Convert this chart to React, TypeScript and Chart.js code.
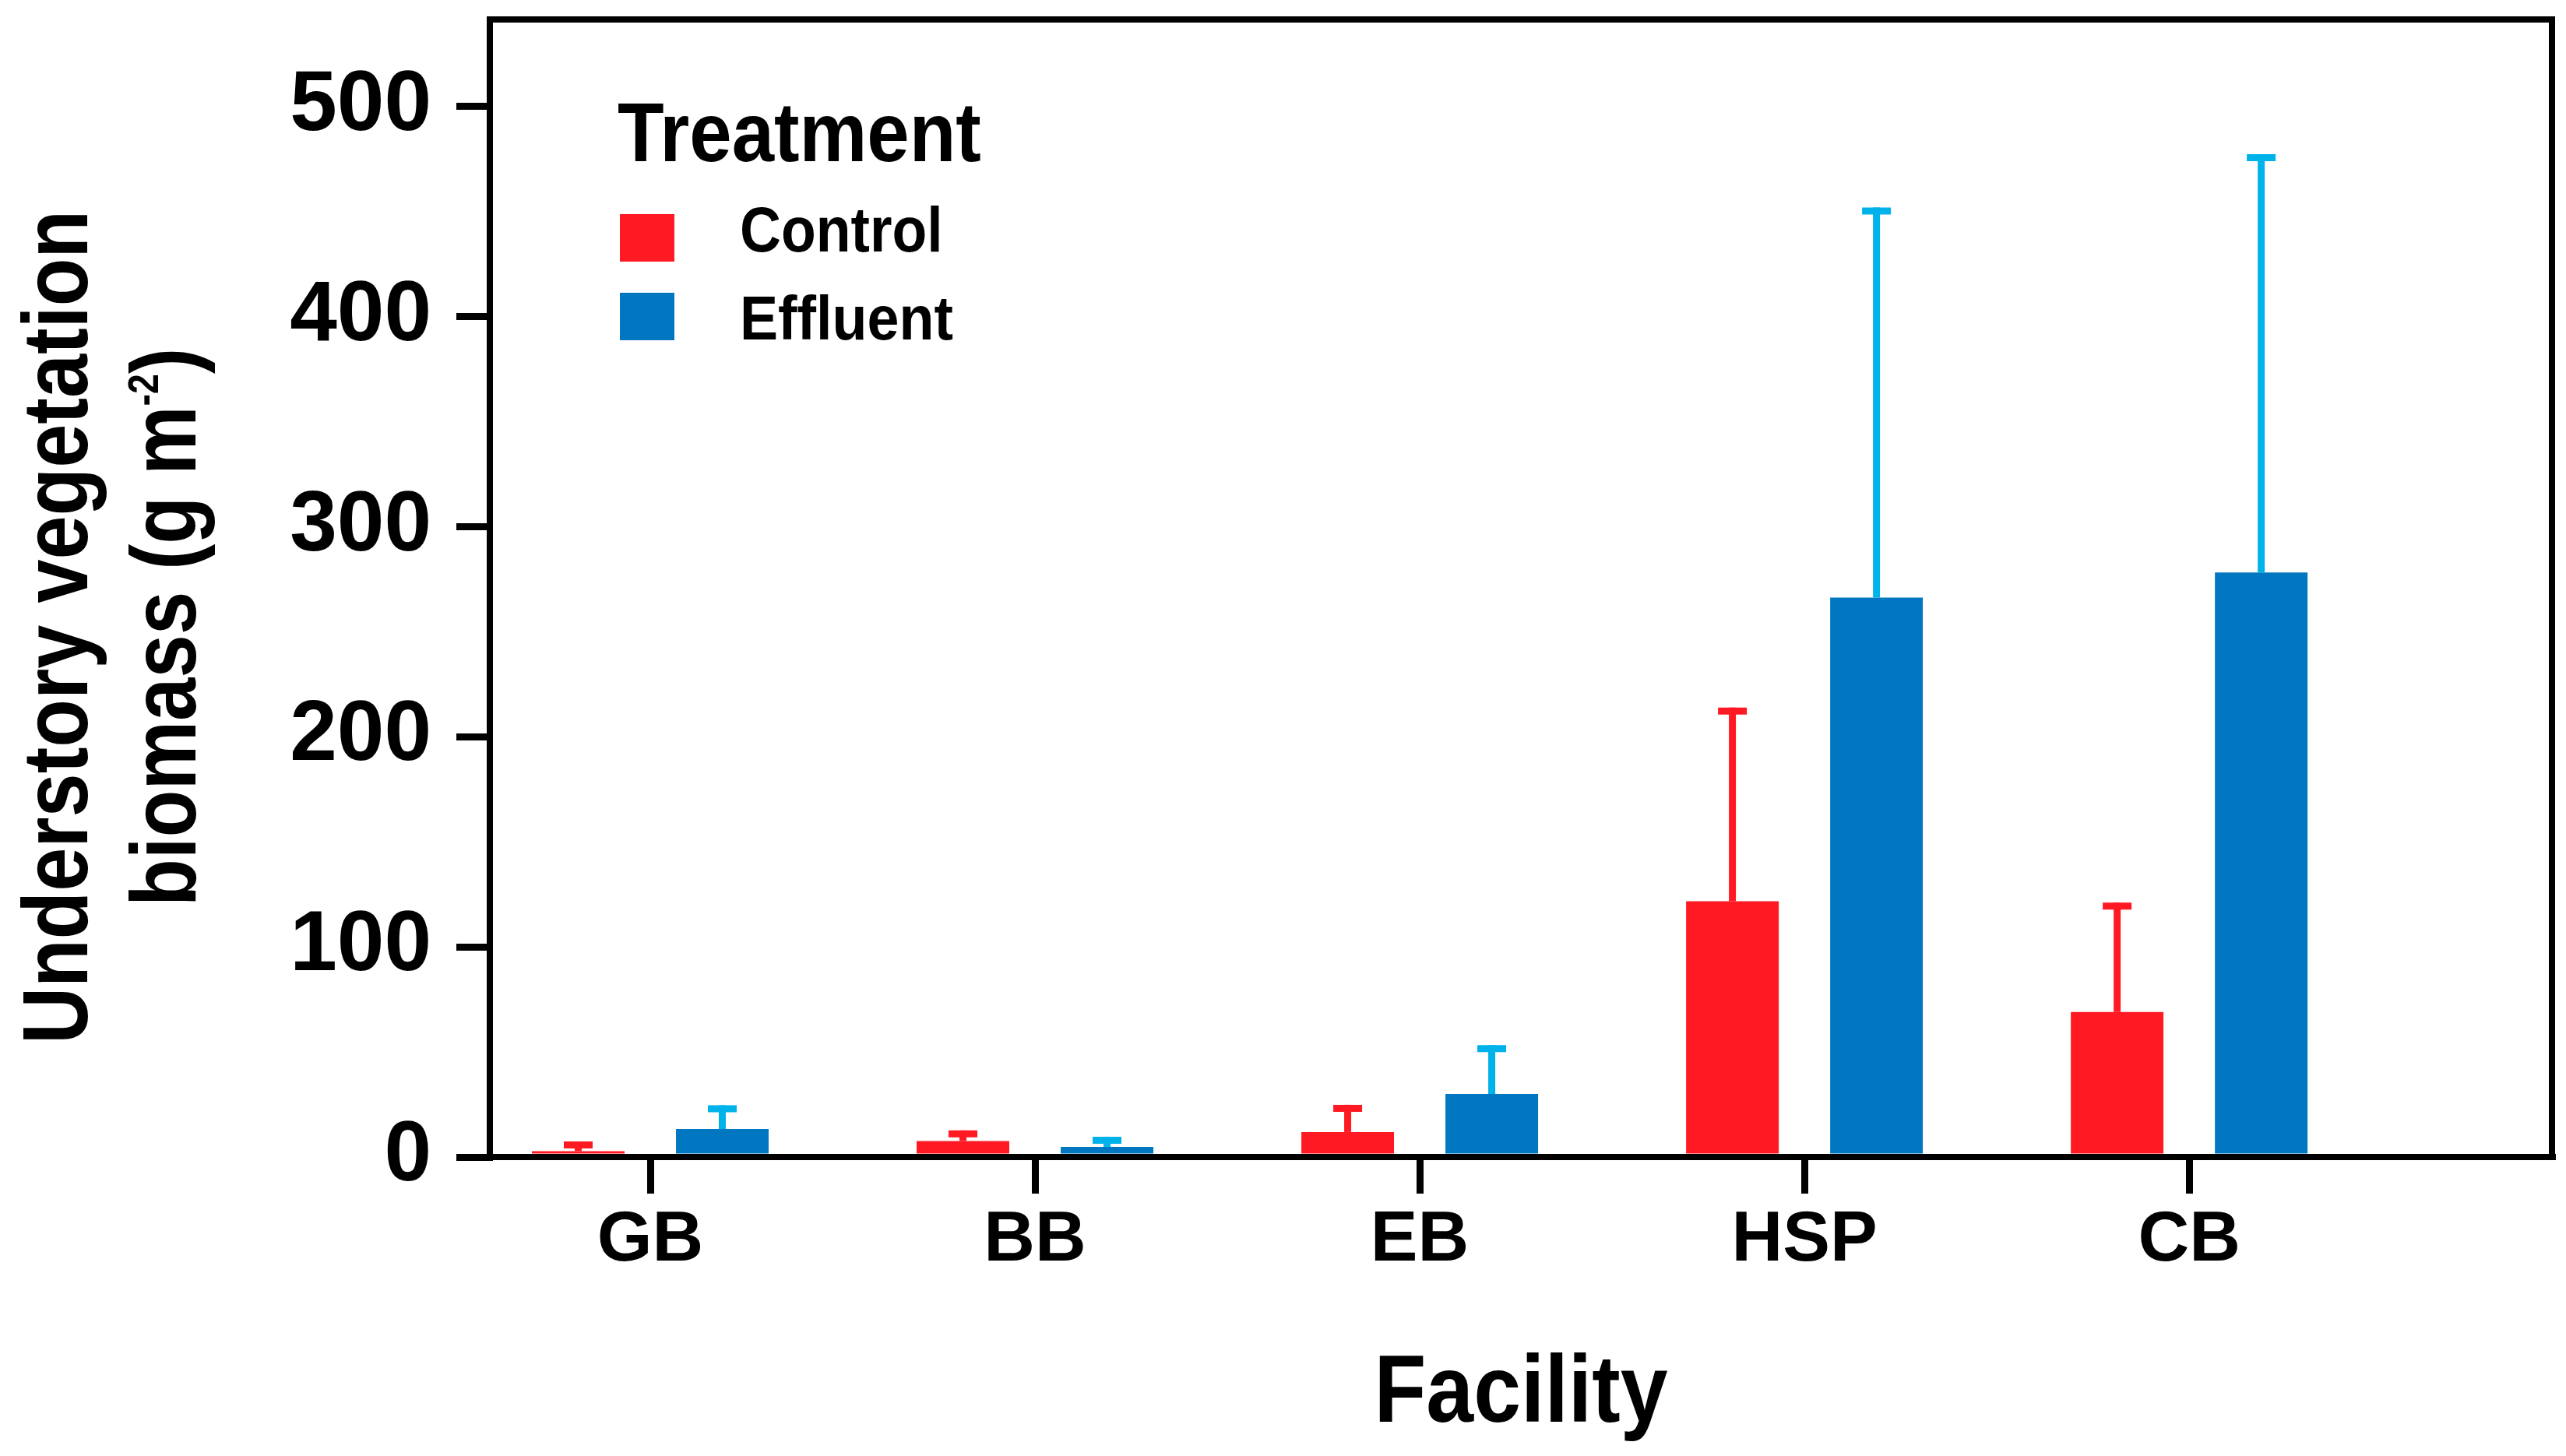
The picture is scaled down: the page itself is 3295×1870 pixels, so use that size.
import React, { useEffect, useRef } from 'react';
import { Chart, registerables } from 'chart.js';

Chart.register(...registerables);

// ---------- data ----------
const facilities = ['GB', 'BB', 'EB', 'HSP', 'CB'];
const controlMean = [2.8, 7.6, 11.9, 121.8, 69.0];
const controlSE = [2.9, 3.4, 11.3, 90.5, 50.4];
const effluentMean = [13.3, 4.8, 30.0, 266.3, 278.3];
const effluentSE = [9.7, 3.2, 21.6, 184.0, 197.4];
const yTickValues = [0, 100, 200, 300, 400, 500];
const treatments = ['Control', 'Effluent'];
const legendTitle = 'Treatment';
const xAxisTitle = 'Facility';
const yAxisTitleLine1 = 'Understory vegetation';
const yAxisTitleLine2 = 'biomass (g m';
const yAxisTitleSup = '-2';
const yAxisTitleEnd = ')';

// ---------- style ----------
const W = 3295;
const H = 1870;
const RED = '#FF1923';
const BLUE = '#0077C0';
const BLUE_ERR = '#00B2EA';
const FONT = '"Liberation Sans", Arial, Helvetica, sans-serif';

function drawScaledText(
  ctx: CanvasRenderingContext2D,
  text: string,
  x: number,
  y: number,
  size: number,
  sx: number,
  align: CanvasTextAlign = 'left'
) {
  ctx.save();
  ctx.font = `bold ${size}px ${FONT}`;
  ctx.fillStyle = '#000';
  ctx.textAlign = align;
  ctx.textBaseline = 'alphabetic';
  ctx.translate(x, y);
  ctx.scale(sx, 1);
  ctx.fillText(text, 0, 0);
  ctx.restore();
}

const errorBarPlugin = {
  id: 'errorBars',
  afterDatasetsDraw(chart: any) {
    const { ctx } = chart;
    const yScale = chart.scales.y;
    chart.data.datasets.forEach((ds: any, di: number) => {
      const meta = chart.getDatasetMeta(di);
      meta.data.forEach((el: any, i: number) => {
        const mean = ds.data[i].y;
        const se = ds.errors[i];
        const yBase = yScale.getPixelForValue(mean);
        const yTop = yScale.getPixelForValue(mean + se);
        ctx.save();
        ctx.strokeStyle = ds.errorColor;
        ctx.lineWidth = 9;
        ctx.lineCap = 'butt';
        ctx.beginPath();
        ctx.moveTo(el.x, yBase);
        ctx.lineTo(el.x, yTop - 4.5);
        ctx.stroke();
        ctx.beginPath();
        ctx.moveTo(el.x - 18.5, yTop);
        ctx.lineTo(el.x + 18.5, yTop);
        ctx.stroke();
        ctx.restore();
      });
    });
  },
};

const decorPlugin = {
  id: 'decor',
  afterDraw(chart: any) {
    const { ctx, chartArea: ca } = chart;
    const yScale = chart.scales.y;

    // top and right frame
    ctx.save();
    ctx.strokeStyle = '#000';
    ctx.lineWidth = 8;
    ctx.lineJoin = 'miter';
    ctx.beginPath();
    ctx.moveTo(ca.left - 4, ca.top);
    ctx.lineTo(ca.right, ca.top);
    ctx.lineTo(ca.right, ca.bottom + 4);
    ctx.stroke();
    ctx.restore();

    // legend
    const lx = ca.left;
    const ty = ca.top;
    drawScaledText(ctx, legendTitle, lx + 164, ty + 182, 107, 0.913);
    const boxTops = [ty + 250, ty + 351];
    const baselines = [ty + 298, ty + 411];
    const sizes = [81, 80];
    const sxs = [0.905, 0.92];
    chart.data.datasets.forEach((ds: any, i: number) => {
      ctx.save();
      ctx.fillStyle = ds.backgroundColor;
      ctx.fillRect(lx + 167, boxTops[i], 70, 61);
      ctx.restore();
      drawScaledText(ctx, ds.label, lx + 321, baselines[i], sizes[i], sxs[i]);
    });

    // x title
    drawScaledText(ctx, xAxisTitle, (ca.left + ca.right) / 2, ca.bottom + 340, 123, 0.89, 'center');

    // y title
    const cy =
      (yScale.getPixelForValue(yTickValues[0]) +
        yScale.getPixelForValue(yTickValues[yTickValues.length - 1])) /
        2 -
      6;
    const main = `bold 118px ${FONT}`;
    const sup = `bold 55px ${FONT}`;
    ctx.save();
    ctx.fillStyle = '#000';
    ctx.textBaseline = 'alphabetic';
    ctx.translate(ca.left - 517, cy);
    ctx.rotate(-Math.PI / 2);
    ctx.scale(0.855, 1);
    ctx.font = main;
    ctx.textAlign = 'center';
    ctx.fillText(yAxisTitleLine1, 0, 0);
    ctx.restore();

    ctx.save();
    ctx.fillStyle = '#000';
    ctx.textBaseline = 'alphabetic';
    ctx.textAlign = 'left';
    ctx.translate(ca.left - 378, cy);
    ctx.rotate(-Math.PI / 2);
    ctx.scale(0.845, 1);
    ctx.font = main;
    const w1 = ctx.measureText(yAxisTitleLine2).width;
    const w3 = ctx.measureText(yAxisTitleEnd).width;
    ctx.font = sup;
    const w2 = ctx.measureText(yAxisTitleSup).width;
    let x = -(w1 + w2 + w3) / 2;
    ctx.font = main;
    ctx.fillText(yAxisTitleLine2, x, 0);
    x += w1;
    ctx.font = sup;
    ctx.fillText(yAxisTitleSup, x, -48);
    x += w2;
    ctx.font = main;
    ctx.fillText(yAxisTitleEnd, x, 0);
    ctx.restore();
  },
};

export default function App() {
  const ref = useRef<HTMLCanvasElement>(null);

  useEffect(() => {
    document.body.style.margin = '0';
    const canvas = ref.current;
    if (!canvas) return;

    const chart = new Chart(canvas, {
      type: 'bar',
      data: {
        datasets: [
          {
            label: treatments[0],
            data: facilities.map((_, i) => ({ x: i, y: controlMean[i] })),
            backgroundColor: RED,
            borderWidth: 0,
            errors: controlSE,
            errorColor: RED,
          } as any,
          {
            label: treatments[1],
            data: facilities.map((_, i) => ({ x: i, y: effluentMean[i] })),
            backgroundColor: BLUE,
            borderWidth: 0,
            errors: effluentSE,
            errorColor: BLUE_ERR,
          } as any,
        ],
      },
      options: {
        animation: false,
        responsive: false,
        devicePixelRatio: 1,
        categoryPercentage: 0.749,
        barPercentage: 0.643,
        layout: { padding: { top: 25, right: 18, bottom: 0, left: 0 } },
        plugins: {
          legend: { display: false },
          tooltip: { enabled: false },
        },
        scales: {
          x: {
            type: 'linear',
            min: -0.417,
            max: 4.943,
            offset: false,
            afterBuildTicks: (scale: any) => {
              scale.ticks = facilities.map((_, i) => ({ value: i }));
            },
            afterFit: (scale: any) => {
              scale.height = 384;
              scale.paddingLeft = 0;
              scale.paddingRight = 0;
            },
            grid: {
              drawOnChartArea: false,
              drawTicks: true,
              tickLength: 47,
              tickWidth: 9,
              tickColor: '#000',
              color: '#000',
              lineWidth: 9,
              offset: false,
            },
            border: { display: true, color: '#000', width: 8, z: 1 },
            ticks: {
              callback: (v: any) => facilities[Math.round(Number(v))] ?? '',
              font: { family: FONT, size: 91, weight: 'bold' },
              color: '#000',
              padding: 6,
              maxRotation: 0,
              minRotation: 0,
              autoSkip: false,
            },
            title: { display: false },
          } as any,
          y: {
            type: 'linear',
            min: 0,
            max: 541.5,
            afterBuildTicks: (scale: any) => {
              scale.ticks = yTickValues.map((v) => ({ value: v }));
            },
            afterFit: (scale: any) => {
              scale.width = 629;
              scale.paddingTop = 0;
              scale.paddingBottom = 0;
            },
            grid: {
              drawOnChartArea: false,
              drawTicks: true,
              tickLength: 43,
              tickWidth: 9,
              tickColor: '#000',
              color: '#000',
              lineWidth: 9,
            },
            border: { display: true, color: '#000', width: 8, z: 1 },
            ticks: {
              font: { family: FONT, size: 109, weight: 'bold' },
              color: '#000',
              padding: 32,
            },
            title: { display: false },
          } as any,
        },
      },
      plugins: [errorBarPlugin, decorPlugin],
    });

    return () => chart.destroy();
  }, []);

  return (
    <canvas
      ref={ref}
      width={W}
      height={H}
      style={{ display: 'block', width: W, height: H }}
    />
  );
}
